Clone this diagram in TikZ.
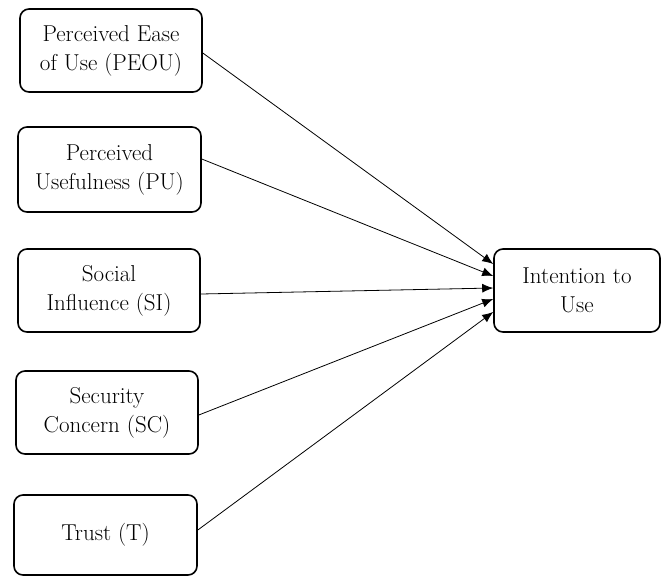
\documentclass[tikz,border=0pt]{standalone}
\usepackage{fontspec}
\usetikzlibrary{arrows.meta}
\begin{document}
\begin{tikzpicture}[x=1pt,y=-1pt,
  box/.style={draw,line width=1.6pt,rounded corners=9pt,align=center,inner sep=0pt,
    font=\fontsize{23}{29}\selectfont},
  link/.style={line width=0.8pt,-{Latex[length=11pt,width=9pt]}}]
\useasboundingbox (0,0) rectangle (663,576);
\node[box,minimum width=182pt,minimum height=83pt] (p1) at (111,50.5) {Perceived Ease\\of Use (PEOU)};
\node[box,minimum width=183pt,minimum height=85pt] (p2) at (109.5,169.5) {Perceived\\Usefulness (PU)};
\node[box,minimum width=182pt,minimum height=83pt] (p3) at (109,290.5) {Social\\Influence (SI)};
\node[box,minimum width=182pt,minimum height=83pt] (p4) at (107,412.5) {Security\\Concern (SC)};
\node[box,minimum width=183pt,minimum height=80pt] (p5) at (105.5,535) {Trust (T)};
\node[box,minimum width=166pt,minimum height=83pt] (iu) at (577,290.5) {Intention to\\Use};
\coordinate (t1) at ([yshift=26.5pt]iu.west);
\coordinate (t2) at ([yshift=14.5pt]iu.west);
\coordinate (t3) at ([yshift=2.5pt]iu.west);
\coordinate (t4) at ([yshift=-8.5pt]iu.west);
\coordinate (t5) at ([yshift=-21.5pt]iu.west);
\draw[link] ([yshift=-2.5pt]p1.east) -- (t1);
\draw[link] ([yshift=10.5pt]p2.east) -- (t2);
\draw[link] ([yshift=-3.5pt]p3.east) -- (t3);
\draw[link] ([yshift=-2.5pt]p4.east) -- (t4);
\draw[link] ([yshift=5pt]p5.east) -- (t5);
\end{tikzpicture}
\end{document}
